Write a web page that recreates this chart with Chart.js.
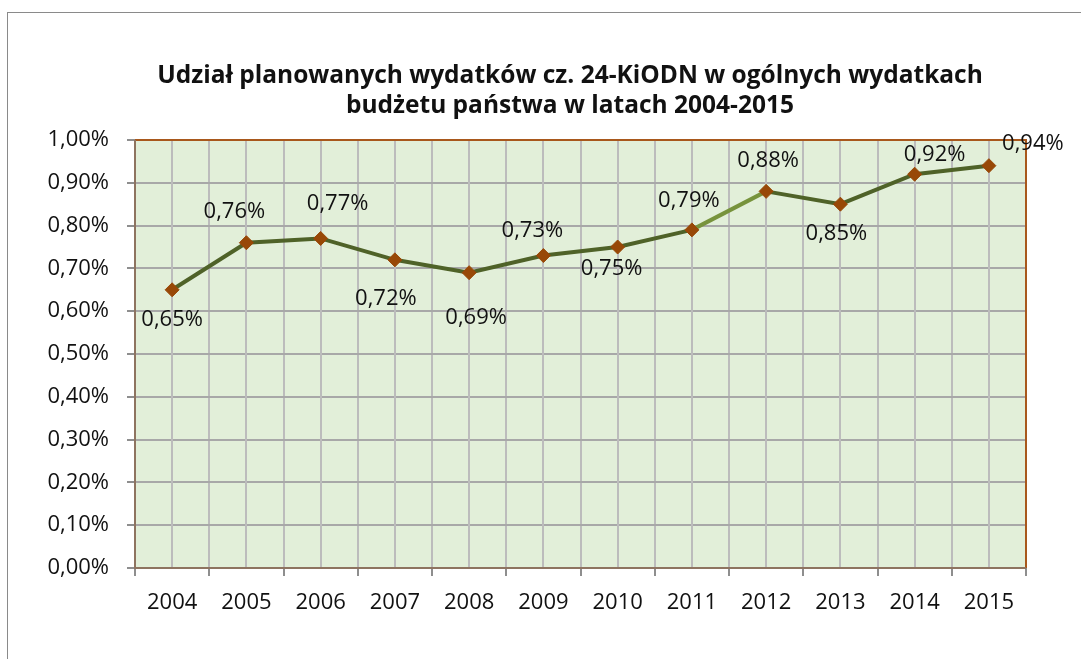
<!DOCTYPE html>
<html>
<head>
<meta charset="utf-8">
<script src="https://cdn.jsdelivr.net/npm/chart.js@4.4.1/dist/chart.umd.min.js"></script>
<style>
  html, body { margin: 0; padding: 0; background: #fff; }
  #wrap { width: 1081px; height: 659px; }
</style>
</head>
<body>
<div id="wrap"><canvas id="chart" width="1081" height="659"></canvas></div>
<script>
const years = ["2004", "2005", "2006", "2007", "2008", "2009", "2010", "2011", "2012", "2013", "2014", "2015"];
const shares = [0.65, 0.76, 0.77, 0.72, 0.69, 0.73, 0.75, 0.79, 0.88, 0.85, 0.92, 0.94];
const chartTitle = ["Udział planowanych wydatków cz. 24-KiODN w ogólnych wydatkach", "budżetu państwa w latach 2004-2015"];

// where each value label sits relative to its point (dx, dy)
const labelOffsets = [[0, 30], [-12, -31], [17, -35], [-9, 39], [7, 45], [-11, -25], [-6, 22], [-3, -29], [2, -31], [-4, 30], [20, -20], [44, -22]];

const FONT = "'Open Sans', 'DejaVu Sans', sans-serif";
const fmt = v => v.toFixed(2).replace('.', ',') + '%';

// outer frame, title, plot background and the extra mid-category grid lines
const backdrop = {
  id: 'backdrop',
  beforeDraw(chart) {
    const { ctx, chartArea: a } = chart;
    ctx.save();
    ctx.strokeStyle = '#8a8a8a';
    ctx.lineWidth = 1;
    ctx.strokeRect(7.5, 12.5, 1200, 700);
    ctx.fillStyle = '#e2efd9';
    ctx.fillRect(a.left, a.top, a.right - a.left, a.bottom - a.top);
    ctx.font = 'bold 24.5px ' + FONT;
    ctx.fillStyle = '#111';
    ctx.textAlign = 'center';
    ctx.textBaseline = 'middle';
    ctx.fillText(chartTitle[0], 570, 76);
    ctx.fillText(chartTitle[1], 570, 106);
    ctx.restore();
  },
  beforeDatasetsDraw(chart) {
    const { ctx, chartArea: a, scales: { x } } = chart;
    ctx.save();
    ctx.strokeStyle = '#bcbcbc';
    ctx.lineWidth = 2;
    years.forEach((_, i) => {
      const px = Math.round(x.getPixelForValue(i));
      ctx.beginPath();
      ctx.moveTo(px, a.top);
      ctx.lineTo(px, a.bottom);
      ctx.stroke();
    });
    // plot border: top/right orange-brown, left/bottom brown-grey
    ctx.lineWidth = 2;
    ctx.strokeStyle = '#a8581c';
    ctx.beginPath();
    ctx.moveTo(a.left, a.top);
    ctx.lineTo(a.right, a.top);
    ctx.lineTo(a.right, a.bottom);
    ctx.stroke();
    ctx.strokeStyle = '#8e7460';
    ctx.beginPath();
    ctx.moveTo(a.left, a.top);
    ctx.lineTo(a.left, a.bottom);
    ctx.lineTo(a.right, a.bottom);
    ctx.stroke();
    ctx.restore();
  }
};

const valueLabels = {
  id: 'valueLabels',
  afterDatasetsDraw(chart) {
    const { ctx } = chart;
    const meta = chart.getDatasetMeta(0);
    ctx.save();
    ctx.font = '22px ' + FONT;
    ctx.fillStyle = '#111';
    ctx.textAlign = 'center';
    ctx.textBaseline = 'middle';
    meta.data.forEach((pt, i) => {
      const [dx, dy] = labelOffsets[i];
      ctx.fillText(fmt(shares[i]), pt.x + dx, pt.y + dy);
    });
    ctx.restore();
  }
};

new Chart(document.getElementById('chart'), {
  type: 'line',
  plugins: [backdrop, valueLabels],
  data: {
    labels: years,
    datasets: [{
      data: shares,
      borderWidth: 4,
      borderColor: '#4f6228',
      segment: {
        borderColor: c => c.p0DataIndex === 7 ? '#77933c' : '#4f6228'
      },
      pointStyle: 'rectRot',
      pointRadius: 7,
      pointBackgroundColor: '#984807',
      pointBorderColor: '#984807',
      pointBorderWidth: 1,
      tension: 0
    }]
  },
  options: {
    responsive: false,
    animation: false,
    layout: { padding: { left: 0, right: 55, top: 140, bottom: 0 } },
    plugins: {
      legend: { display: false },
      tooltip: { enabled: false },
      title: { display: false }
    },
    scales: {
      x: {
        offset: true,
        grid: { offset: true, color: '#bcbcbc', lineWidth: 2, tickLength: 8, tickColor: '#8e8e8e', tickWidth: 2 },
        border: { display: false },
        ticks: { color: '#111', font: { family: FONT, size: 22 }, padding: 14, maxRotation: 0 },
        afterFit: s => { s.height = 91; }
      },
      y: {
        min: 0,
        max: 1,
        grid: { color: '#a8a8a8', lineWidth: 2, tickLength: 8, tickColor: '#8e8e8e', tickWidth: 2 },
        border: { display: false },
        ticks: { stepSize: 0.1, color: '#111', font: { family: FONT, size: 22 }, padding: 18, callback: v => fmt(v) },
        afterFit: s => { s.height = s.height; s.width = 135; }
      }
    }
  }
});
</script>
</body>
</html>
